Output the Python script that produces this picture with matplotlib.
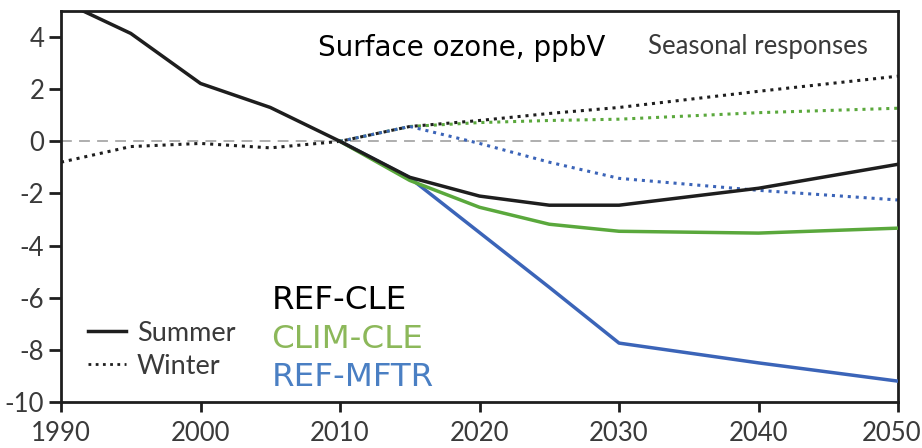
import matplotlib
matplotlib.use("Agg")
import matplotlib.pyplot as plt
import matplotlib.transforms as mtransforms
from matplotlib.lines import Line2D

# Years for each scenario
years_hist = [1990, 1995, 2000, 2005, 2010, 2015, 2020, 2025, 2030, 2040, 2050]
years_fut = [2010, 2015, 2020, 2025, 2030, 2040, 2050]

# Summer surface ozone changes (ppbV)
ref_cle_summer = [5.4, 4.14, 2.22, 1.3, 0.0, -1.38, -2.1, -2.45, -2.45, -1.8, -0.88]
clim_cle_summer = [0.0, -1.5, -2.53, -3.18, -3.45, -3.52, -3.33]
ref_mftr_summer = [0.0, -1.4, -3.5, -5.6, -7.74, -8.5, -9.2]

# Winter surface ozone changes (ppbV)
ref_cle_winter = [-0.8, -0.2, -0.08, -0.25, 0.0, 0.57, 0.8, 1.07, 1.3, 1.92, 2.5]
clim_cle_winter = [0.0, 0.57, 0.72, 0.8, 0.85, 1.1, 1.27]
ref_mftr_winter = [0.0, 0.57, -0.08, -0.8, -1.42, -1.88, -2.25]

x_ticks = [1990, 2000, 2010, 2020, 2030, 2040, 2050]
y_ticks = [-10, -8, -6, -4, -2, 0, 2, 4]

BLACK = "#1e1e1e"
GREEN = "#5aa83c"
BLUE = "#3b64b8"
GREEN_TXT = "#8cb85a"
BLUE_TXT = "#4a7fc3"
GRAY_TXT = "#3a3a3a"

fig = plt.figure(figsize=(9.22, 4.48), dpi=100)
ax = fig.add_axes([0.0662, 0.1027, 0.9078, 0.8727])

ax.axhline(0, color="#a8a8a8", lw=1.3, ls=(0, (6, 4)), zorder=1)

dot = (0, (1, 1.6))
ax.plot(years_fut, clim_cle_winter, color=GREEN, lw=2.2, ls=dot, zorder=2)
ax.plot(years_fut, ref_mftr_winter, color=BLUE, lw=2.2, ls=dot, zorder=2)
ax.plot(years_hist, ref_cle_winter, color=BLACK, lw=2.2, ls=dot, zorder=3)

ax.plot(years_fut, ref_mftr_summer, color=BLUE, lw=2.5, zorder=4)
ax.plot(years_fut, clim_cle_summer, color=GREEN, lw=2.5, zorder=4)
ax.plot(years_hist, ref_cle_summer, color=BLACK, lw=2.5, zorder=5)

ax.set_xlim(1990, 2050)
ax.set_ylim(-10, 5)
ax.set_xticks(x_ticks)
ax.set_yticks(y_ticks)

tick_font = dict(family=["Lato", "DejaVu Sans"], size=18.5, color=GRAY_TXT)
ax.set_xticklabels([str(v) for v in x_ticks], **tick_font)
ax.set_yticklabels([str(v) for v in y_ticks], **tick_font)
ax.tick_params(axis="both", direction="out", color=BLACK, width=2)
ax.tick_params(axis="x", length=7, pad=7)
ax.tick_params(axis="y", length=9, pad=3)

# keep the last year label inside the figure edge
last = ax.get_xticklabels()[-1]
last.set_transform(last.get_transform() +
                   mtransforms.ScaledTranslation(-6 / 100, 0, fig.dpi_scale_trans))

for side in ["left", "right", "top", "bottom"]:
    ax.spines[side].set_color(BLACK)
    ax.spines[side].set_linewidth(2)

ax.text(0.479, 0.905, "Surface ozone, ppbV", transform=ax.transAxes,
        ha="center", va="center", fontsize=20, color="black",
        family=["DejaVu Sans"])
ax.text(0.833, 0.91, "Seasonal responses", transform=ax.transAxes,
        ha="center", va="center", fontsize=18.5, color=GRAY_TXT,
        family=["Lato", "DejaVu Sans"])

# Scenario names coloured like their lines
ax.text(0.2515, 0.26, "REF-CLE", transform=ax.transAxes, ha="left",
        va="center", fontsize=23.4, color="black", family=["DejaVu Sans"])
ax.text(0.2515, 0.16, "CLIM-CLE", transform=ax.transAxes, ha="left",
        va="center", fontsize=23.4, color=GREEN_TXT, family=["DejaVu Sans"])
ax.text(0.2515, 0.062, "REF-MFTR", transform=ax.transAxes, ha="left",
        va="center", fontsize=23.4, color=BLUE_TXT, family=["DejaVu Sans"])

# Line-style key for the two seasons
handles = [Line2D([], [], color=BLACK, lw=2.5),
           Line2D([], [], color=BLACK, lw=2, ls=dot)]
leg = ax.legend(handles, ["Summer", "Winter"], loc="lower left",
                bbox_to_anchor=(0.003, -0.003), frameon=False,
                handlelength=1.4, handletextpad=0.4, labelspacing=0.3,
                prop=dict(family=["Lato", "DejaVu Sans"], size=19.5))
for t in leg.get_texts():
    t.set_color(GRAY_TXT)

fig.savefig("out.png", dpi=100)
